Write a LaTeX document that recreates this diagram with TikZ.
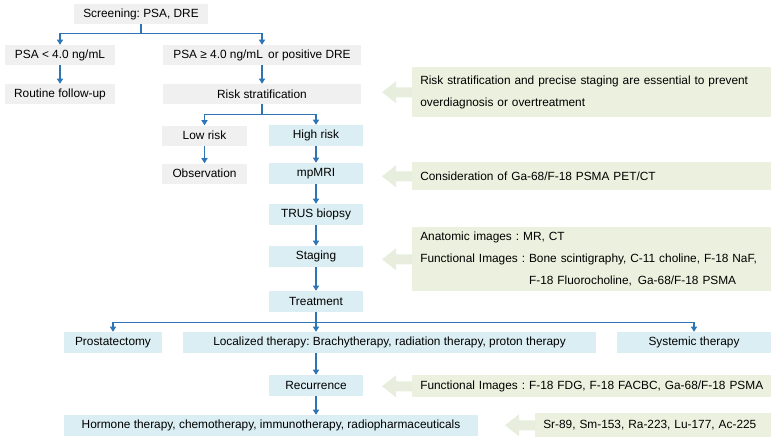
\documentclass[tikz,border=0pt]{standalone}
\usepackage{fontspec}
\setmainfont{Liberation Sans}
\usetikzlibrary{arrows.meta,calc}
\frenchspacing
\definecolor{boxgrey}{RGB}{240,240,240}
\definecolor{boxblue}{RGB}{218,238,243}
\definecolor{boxgreen}{RGB}{235,241,222}
\definecolor{arrgreen}{RGB}{231,238,221}
\definecolor{linkblue}{RGB}{46,117,182}
\newcommand{\callarrow}[1]{%
  \fill[arrgreen] ($(#1.west)+(0,-5)$) -- ++(-16,0) -- ++(0,-6) -- ++(-14,11)
    -- ++(14,11) -- ++(0,-6) -- ++(16,0) -- cycle;}
\begin{document}
\begin{tikzpicture}[x=0.75pt,y=-0.75pt,
  every node/.style={font=\fontsize{8.9}{10.6}\selectfont},
  greybox/.style={fill=boxgrey,inner sep=0pt,minimum height=15pt},
  bluebox/.style={fill=boxblue,inner sep=0pt,minimum height=15.75pt},
  callout/.style={fill=boxgreen,anchor=north west,inner xsep=6pt,inner ysep=0pt,
    align=left,font=\fontsize{8.9}{16.5}\selectfont},
  link/.style={draw=linkblue,line width=0.85pt,-{Triangle[length=3.8pt,width=4.6pt]}},
  plain/.style={draw=linkblue,line width=0.85pt}]
\useasboundingbox (0,0) rectangle (777,440);

% left flow
\node[greybox,minimum width=100.5pt] (scr) at (141,14) {Screening: PSA, DRE};
\node[greybox,minimum width=82.5pt] (psa1) at (60,55) {PSA < 4.0 ng/mL};
\node[greybox,minimum width=148.5pt] (psa2) at (262,55) {PSA ≥ 4.0 ng/mL\, or positive DRE};
\node[greybox,minimum width=82.5pt] (routine) at (60,94) {Routine follow-up};
\node[greybox,minimum width=148.5pt] (risk) at (262,94) {Risk stratification};
\node[greybox,minimum width=63.75pt] (low) at (204.5,135.5) {Low risk};
\node[bluebox,minimum width=70.5pt] (high) at (316,135.5) {High risk};
\node[greybox,minimum width=63.75pt] (obs) at (204.5,173.5) {Observation};
\node[bluebox,minimum width=70.5pt] (mpmri) at (316,173.5) {mpMRI};
\node[bluebox,minimum width=70.5pt] (trus) at (316,214.5) {TRUS biopsy};
\node[bluebox,minimum width=70.5pt] (staging) at (316,256.5) {Staging};
\node[bluebox,minimum width=70.5pt] (treat) at (316,301.5) {Treatment};
\node[bluebox,minimum width=73.5pt] (prost) at (113,342.5) {Prostatectomy};
\node[bluebox,minimum width=309.75pt] (local) at (389.5,342.5) {Localized therapy: Brachytherapy, radiation therapy, proton therapy};
\node[bluebox,minimum width=115.5pt] (sys) at (694,342.5) {Systemic therapy};
\node[bluebox,minimum width=70.5pt] (recur) at (316,385.5) {Recurrence};
\node[bluebox,minimum width=310.5pt] (horm) at (271,425.5) {Hormone therapy, chemotherapy, immunotherapy, radiopharmaceuticals};

% callouts
\node[callout,text width=257pt,minimum height=37.5pt] (c1) at (412,67)
  {Risk stratification and precise staging are essential to prevent\\overdiagnosis or overtreatment};
\node[callout,text width=257pt,minimum height=21pt] (c2) at (412,162)
  {Consideration of Ga-68/F-18 PSMA PET/CT};
\node[callout,text width=257pt,minimum height=48pt] (c3) at (412,227)
  {Anatomic images : MR, CT\\Functional Images : Bone scintigraphy, C-11 choline, F-18 NaF,\\\phantom{Functional Images : }F-18 Fluorocholine,\, Ga-68/F-18 PSMA};
\node[callout,text width=257pt,minimum height=16.5pt] (c4) at (412,375)
  {\mbox{Functional Images : F-18 FDG, F-18 FACBC, Ga-68/F-18 PSMA}};
\node[callout,text width=165pt,minimum height=18pt] (c5) at (535,413)
  {Sr-89, Sm-153, Ra-223, Lu-177, Ac-225};

\callarrow{c1}
\callarrow{c2}
\callarrow{c3}
\callarrow{c4}
\callarrow{c5}

% connectors
\draw[plain] (scr.south) -- ++(0,9) coordinate (j1);
\draw[link] (j1) -| (psa1.north);
\draw[link] (j1) -| (psa2.north);
\draw[link] (psa1) -- (routine);
\draw[link] (psa2) -- (risk);
\draw[plain] (risk.south) -- ++(0,10) coordinate (j2);
\draw[link] (j2) -| (low.north);
\draw[link] (j2) -| (high.north);
\draw[link] (low) -- (obs);
\draw[link] (high) -- (mpmri);
\draw[link] (mpmri) -- (trus);
\draw[link] (trus) -- (staging);
\draw[link] (staging) -- (treat);
\draw[plain] (treat.south) -- ++(0,10) coordinate (j3);
\draw[link] (j3) -| (prost.north);
\draw[link] (j3) -- (j3 |- local.north);
\draw[link] (j3) -| (sys.north);
\draw[link] (recur.north |- local.south) -- (recur.north);
\draw[link] (recur.south) -- (recur.south |- horm.north);
\end{tikzpicture}
\end{document}
